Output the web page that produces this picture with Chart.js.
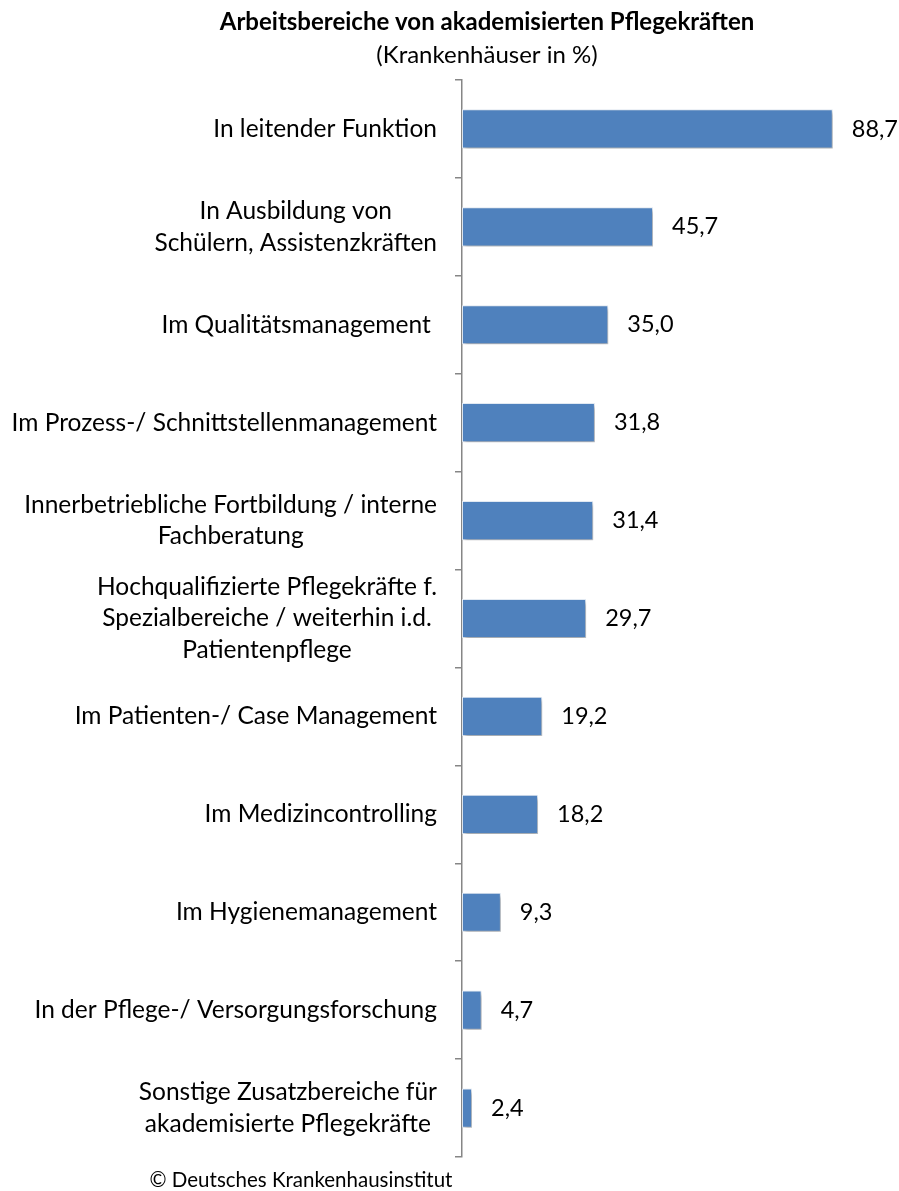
<!DOCTYPE html>
<html lang="de">
<head>
  <meta charset="UTF-8">
  <title>Arbeitsbereiche von akademisierten Pflegekräften</title>
  <script src="https://cdn.jsdelivr.net/npm/chart.js"></script>
  <style>
    body { margin: 0; background: #fff; }
    #wrap { width: 899px; height: 1191px; }
  </style>
</head>
<body>
  <div id="wrap"><canvas id="chart" width="899" height="1191"></canvas></div>

  <script>
    // Daten
    const categories = [
      ['In leitender Funktion'],
      ['In Ausbildung von', 'Schülern, Assistenzkräften'],
      ['Im Qualitätsmanagement '],
      ['Im Prozess-/ Schnittstellenmanagement'],
      ['Innerbetriebliche Fortbildung / interne', 'Fachberatung'],
      ['Hochqualifizierte Pflegekräfte f.', 'Spezialbereiche / weiterhin i.d.', 'Patientenpflege'],
      ['Im Patienten-/ Case Management'],
      ['Im Medizincontrolling'],
      ['Im Hygienemanagement'],
      ['In der Pflege-/ Versorgungsforschung'],
      ['Sonstige Zusatzbereiche für', 'akademisierte Pflegekräfte']
    ];
    const values = [88.7, 45.7, 35.0, 31.8, 31.4, 29.7, 19.2, 18.2, 9.3, 4.7, 2.4];

    const titleText = 'Arbeitsbereiche von akademisierten Pflegekräften';
    const subtitleText = '(Krankenhäuser in %)';
    const sourceText = '© Deutsches Krankenhausinstitut';

    const FONT = 'Lato, "Open Sans", sans-serif';
    const fmt = v => v.toFixed(1).replace('.', ',');

    // Schatten unter den Balken
    const barShadow = {
      id: 'barShadow',
      beforeDatasetsDraw(chart) {
        const c = chart.ctx;
        c.save();
        c.shadowColor = 'rgba(0,0,0,0.3)';
        c.shadowBlur = 4;
        c.shadowOffsetX = 2;
        c.shadowOffsetY = 3;
      },
      afterDatasetsDraw(chart) {
        chart.ctx.restore();
      }
    };

    // Texte: Titel, Kategorien, Werte, Quelle
    const texts = {
      id: 'texts',
      afterDraw(chart) {
        const c = chart.ctx;
        const yScale = chart.scales.y;
        const xScale = chart.scales.x;
        c.save();
        c.fillStyle = '#000';
        c.textBaseline = 'middle';

        c.textAlign = 'center';
        c.font = 'bold 24px ' + FONT;
        c.fillText(titleText, 487, 22);
        c.font = '24px ' + FONT;
        c.fillText(subtitleText, 487, 55);
        c.font = '20.5px ' + FONT;
        c.fillText(sourceText, 301, 1180);

        // Kategorien (Zeilen zentriert, Block rechtsbündig)
        c.font = '24.5px ' + FONT;
        const right = chart.chartArea.left - 25;
        const lh = 31.5;
        categories.forEach((lines, i) => {
          const y = yScale.getPixelForValue(i);
          const w = Math.max(...lines.map(l => c.measureText(l).width));
          const cx = right - w / 2;
          lines.forEach((l, j) => {
            c.fillText(l, cx, y + (j - (lines.length - 1) / 2) * lh);
          });
        });

        // Werte
        c.font = '23.5px ' + FONT;
        c.textAlign = 'left';
        values.forEach((v, i) => {
          c.fillText(fmt(v), xScale.getPixelForValue(v) + 19, yScale.getPixelForValue(i));
        });
        c.restore();
      }
    };

    new Chart(document.getElementById('chart'), {
      type: 'bar',
      data: {
        labels: categories,
        datasets: [{
          data: values,
          backgroundColor: '#4F81BD',
          borderColor: '#E4ECF5',
          borderWidth: 1,
          borderSkipped: false,
          barPercentage: 0.4,
          categoryPercentage: 1.0
        }]
      },
      options: {
        indexAxis: 'y',
        responsive: false,
        animation: false,
        layout: { padding: { top: 80, bottom: 34, left: 0, right: 19 } },
        plugins: {
          legend: { display: false },
          tooltip: { enabled: false }
        },
        scales: {
          x: { display: false, min: 0, max: 100 },
          y: {
            offset: true,
            grid: {
              offset: true,
              drawOnChartArea: false,
              drawTicks: true,
              tickLength: 7,
              color: '#868686',
              lineWidth: 1.5
            },
            border: { color: '#868686', width: 1.5 },
            ticks: { color: 'transparent', font: { size: 22 } },
            afterFit(scale) { scale.width = 462; }
          }
        }
      },
      plugins: [barShadow, texts]
    });
  </script>
</body>
</html>
